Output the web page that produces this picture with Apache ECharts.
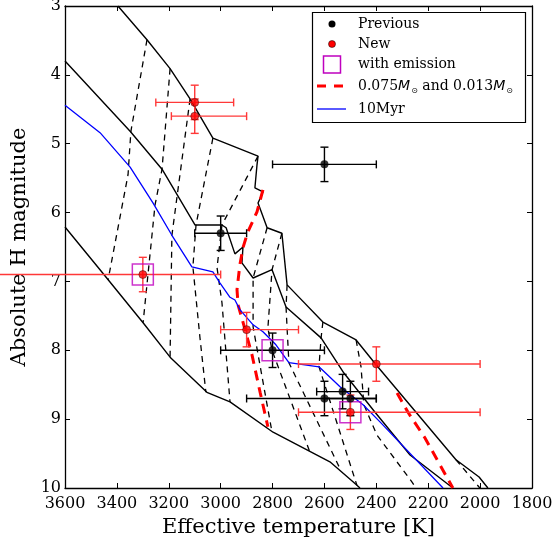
<!DOCTYPE html>
<html>
<head>
<meta charset="utf-8">
<script src="https://cdn.jsdelivr.net/npm/echarts/dist/echarts.min.js"></script>
<style>html,body{margin:0;padding:0;background:#fff}#c{width:556px;height:541px}</style>
</head>
<body>
<div id="c"></div>
<script>
// ---- data (Teff [K], absolute H magnitude) ----
const isoA = [[3396,3.00],[3284,3.49],[3195,3.91],[3118,4.35],[3030,4.92],[2856,5.18],[2860,5.31],[2868,5.64],[2837,5.70],[2856,5.86],[2821,6.22],[2764,6.30],[2744,7.05],[2606,7.59],[2478,7.85],[2401,8.21],[2093,9.59],[2004,9.84],[1970,10.0]];
const isoB = [[3600,3.80],[3349,4.82],[3226,5.37],[3099,6.18],[2995,6.18],[2979,6.22],[2945,6.60],[2914,6.50],[2918,6.73],[2875,6.95],[2802,6.83],[2748,7.37],[2613,7.82],[2525,8.33],[2405,8.90],[2270,9.52],[2105,10.0]];
const isoC = [[3600,6.21],[3465,6.83],[3299,7.60],[3195,8.10],[3053,8.61],[2964,8.75],[2798,9.19],[2579,9.62],[2490,9.91],[2463,10.0]];
const iso10Myr = [[3600,4.44],[3465,4.84],[3349,5.34],[3261,5.86],[3188,6.33],[3111,6.79],[3030,6.86],[3003,7.02],[2964,7.23],[2945,7.27],[2926,7.41],[2875,7.63],[2837,7.73],[2787,7.92],[2737,8.18],[2621,8.24],[2540,8.53],[2451,8.79],[2386,9.04],[2143,10.0]];
const track075 = [[2837,5.67],[2860,5.99],[2895,6.28],[2914,6.51],[2926,6.76],[2937,7.12],[2933,7.34],[2914,7.59],[2879,8.07],[2848,8.61],[2818,9.11]];
const track013 = [[2320,8.62],[2278,8.90],[2213,9.27],[2105,10.0]];
const tracks = [
  [[3284,3.49],[3346,4.82],[3357,5.45],[3434,6.98]],
  [[3195,3.91],[3226,5.37],[3253,5.89],[3299,7.60]],
  [[3118,4.35],[3188,6.33],[3195,8.10]],
  [[3030,4.92],[3095,6.18],[3107,6.79],[3080,7.81],[3057,8.61]],
  [[2856,5.18],[2995,6.18],[3014,6.80],[2995,7.31],[2964,8.75]],
  [[2821,6.22],[2875,6.95],[2875,7.66],[2802,9.19]],
  [[2764,6.30],[2802,6.83],[2818,7.68],[2802,8.00],[2656,9.48]],
  [[2744,7.05],[2748,7.37],[2744,7.68],[2737,8.18],[2536,9.75]],
  [[2606,7.59],[2613,7.82],[2621,8.24],[2475,9.96]],
  [[2478,7.85],[2459,8.24],[2448,8.79],[2398,9.23],[2263,9.91],[2247,10.0]],
  [[2093,9.59],[2001,10.0]]
];
const prevPts  = [[2600,5.3],[3000,6.3],[2800,8.0],[2600,8.7],[2530,8.6],[2500,8.7]];
const prevTErr = [[2800,2400],[3100,2900],[3000,2600],[2900,2400],[2630,2430],[2600,2400]];
const prevMErr = [[5.05,5.55],[6.05,6.55],[7.75,8.25],[8.45,8.95],[8.35,8.85],[8.45,8.95]];
const newPts   = [[3100,4.4],[3100,4.6],[3300,6.9],[2900,7.7],[2400,8.2],[2500,8.9]];
const newTErr  = [[3250,2950],[3190,2900],[3900,3000],[3000,2700],[2700,2000],[2700,2000]];
const newMErr  = [[4.15,4.65],[4.35,4.85],[6.65,7.15],[7.45,7.95],[7.95,8.45],[8.65,9.15]];
const emissionPts = [[3300,6.9],[2800,8.0],[2500,8.9]];
const xTicks = [1800,3600,200];
const yTicks = [3,10,1];

const FONT = 'DejaVu Serif';
function lineS(name, data, color, width, type, z) {
  return {type:'line', name, data, symbol:'none', silent:true, z,
    lineStyle:{color, width, type}, animation:false};
}
function errSeries(name, pts, tErr, mErr, color, z) {
  const data = pts.map((p,i)=>[p[0],p[1],tErr[i][0],tErr[i][1],mErr[i][0],mErr[i][1]]);
  return {type:'custom', name, data, z, clip:false, silent:true, animation:false,
    encode:{x:[0,2,3], y:[1,4,5]},
    renderItem(params, api){
      const t=api.value(0), m=api.value(1);
      const a=api.coord([api.value(2), m]), b=api.coord([api.value(3), m]);
      const c=api.coord([t, api.value(4)]), d=api.coord([t, api.value(5)]);
      const cap=4, st={stroke:color, lineWidth:1.4};
      const L=(x1,y1,x2,y2)=>({type:'line', shape:{x1,y1,x2,y2}, style:st});
      return {type:'group', children:[
        L(a[0],a[1],b[0],b[1]), L(a[0],a[1]-cap,a[0],a[1]+cap), L(b[0],b[1]-cap,b[0],b[1]+cap),
        L(c[0],c[1],d[0],d[1]), L(c[0]-cap,c[1],c[0]+cap,c[1]), L(d[0]-cap,d[1],d[0]+cap,d[1])]};
    }};
}
const axisCommon = {axisLine:{show:true, onZero:false, lineStyle:{color:'#000', width:1.3}},
  axisTick:{show:true, inside:true, length:5, lineStyle:{color:'#000', width:1}},
  splitLine:{show:false}};

const series = [];
[isoA, isoB, isoC].forEach((d,i)=>series.push(lineS('iso'+i, d, '#000', 1.4, 'solid', 2)));
tracks.forEach((d,i)=>series.push(lineS('track'+i, d, '#000', 1.3, [6,5], 2)));
series.push(lineS('0.075 and 0.013', track075.concat([[null,null]], track013), '#ff0000', 3, [10,7], 3));
series[series.length-1].connectNulls = false;
series.push(lineS('10Myr', iso10Myr, '#0000ff', 1.3, 'solid', 3));
series.push(errSeries('prevErr', prevPts, prevTErr, prevMErr, '#000', 5));
series.push(errSeries('newErr', newPts, newTErr, newMErr, '#ff3838', 5));
series.push({type:'scatter', name:'with emission', data:emissionPts, symbol:'rect', symbolSize:21, z:6, silent:true,
  itemStyle:{color:'rgba(0,0,0,0)', borderColor:'#bf00bf', borderWidth:1.5}, animation:false});
series.push({type:'scatter', name:'Previous', data:prevPts, symbol:'circle', symbolSize:8, z:7, silent:true,
  itemStyle:{color:'#000'}, animation:false});
series.push({type:'scatter', name:'New', data:newPts, symbol:'circle', symbolSize:8, z:7, silent:true,
  itemStyle:{color:'#ff0000', borderColor:'#000', borderWidth:0.5}, animation:false});

const LX = 358, tst = (text, y, extra) => ({type:'text', left:LX, top:y-9, z:101,
  style:Object.assign({text, fontFamily:FONT, fontSize:14, fill:'#000', lineHeight:18}, extra||{})});
const graphic = [
  {type:'rect', z:100, shape:{x:312.5, y:12.5, width:213, height:110}, style:{fill:'#fff', stroke:'#000', lineWidth:1.2}},
  {type:'circle', z:101, shape:{cx:332, cy:24, r:3.5}, style:{fill:'#000'}},
  {type:'circle', z:101, shape:{cx:332, cy:44, r:3.5}, style:{fill:'#ff0000', stroke:'#000', lineWidth:0.5}},
  {type:'rect', z:101, shape:{x:323.5, y:56, width:17, height:17}, style:{fill:'none', stroke:'#bf00bf', lineWidth:1.5}},
  {type:'line', z:101, shape:{x1:317, y1:86, x2:343, y2:86}, style:{stroke:'#ff0000', lineWidth:3, lineDash:[9,8]}},
  {type:'line', z:101, shape:{x1:317, y1:109, x2:346, y2:109}, style:{stroke:'#0000ff', lineWidth:1.3}},
  tst('Previous', 24), tst('New', 44), tst('with emission', 64),
  tst('0.075{i|M}{s|⊙} and 0.013{i|M}{s|⊙}', 86, {rich:{
    i:{fontFamily:'DejaVu Sans', fontStyle:'italic', fontSize:14, lineHeight:18},
    s:{fontFamily:'DejaVu Sans', fontSize:8, lineHeight:18, verticalAlign:'bottom', padding:[6,0,0,1]}}}),
  tst('10Myr', 109)
];

const chart = echarts.init(document.getElementById('c'), null, {renderer:'canvas'});
chart.setOption({
  animation:false, backgroundColor:'#fff',
  grid:{left:65, right:24, top:6, bottom:53, outerBoundsMode:'none'},
  xAxis:[
    Object.assign({type:'value', min:xTicks[0], max:xTicks[1], interval:xTicks[2], inverse:true, position:'bottom',
      name:'Effective temperature [K]', nameLocation:'middle', nameGap:27,
      nameTextStyle:{fontFamily:FONT, fontSize:21, color:'#000'},
      axisLabel:{fontFamily:FONT, fontSize:16, color:'#000', margin:8, formatter:(v)=>String(v)}}, axisCommon),
    Object.assign({type:'value', min:xTicks[0], max:xTicks[1], interval:xTicks[2], inverse:true, position:'top',
      axisLabel:{show:false}}, axisCommon)
  ],
  yAxis:[
    Object.assign({type:'value', min:yTicks[0], max:yTicks[1], interval:yTicks[2], inverse:true, position:'left',
      name:'Absolute H magnitude', nameLocation:'middle', nameGap:30,
      nameTextStyle:{fontFamily:FONT, fontSize:21, color:'#000'},
      axisLabel:{fontFamily:FONT, fontSize:16, color:'#000', margin:4, formatter:(v)=>String(v)}}, axisCommon),
    Object.assign({type:'value', min:yTicks[0], max:yTicks[1], interval:yTicks[2], inverse:true, position:'right',
      axisLabel:{show:false}}, axisCommon)
  ],
  series, graphic
});
</script>
</body>
</html>
